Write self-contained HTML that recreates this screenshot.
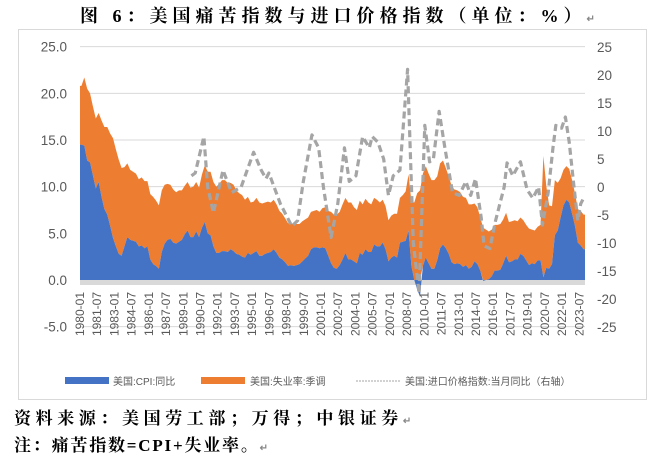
<!DOCTYPE html>
<html><head><meta charset="utf-8"><style>
body{margin:0;background:#fff;width:652px;height:470px;overflow:hidden;position:relative;font-family:"Liberation Serif","Noto Serif CJK SC",serif}
.t{position:absolute;font-weight:bold;white-space:nowrap;color:#000}
</style></head><body>
<div class="t" style="left:80px;top:2px;font-size:18px;letter-spacing:5px">图 6：美国痛苦指数与进口价格指数（单位：%）<span style="font-size:10px;color:#888">↵</span></div>
<div class="t" style="left:14px;top:404px;font-size:17px;letter-spacing:4.6px">资料来源：美国劳工部；万得；中银证券<span style="font-size:10px;color:#888">↵</span></div>
<div class="t" style="left:14px;top:431px;font-size:17px;letter-spacing:1.8px">注：痛苦指数=CPI+失业率。<span style="font-size:10px;color:#888">↵</span></div>
<svg id="c" width="652" height="470" style="position:absolute;left:0;top:0" xmlns="http://www.w3.org/2000/svg"></svg>
<script>
const years=[];for(let y=1980;y<=2023;y++)years.push(y);
const cpi=[14.5,14.4,12.8,12.6, 11.2,9.8,10.5,8.9, 7.6,7.0,5.8,4.5, 3.6,2.8,2.6,3.6, 4.6,4.3,4.2,4.1, 3.6,3.7,3.4,3.6, 2.2,1.7,1.5,1.2, 3.0,3.9,4.3,4.4, 4.0,3.9,4.1,4.3, 4.9,5.3,4.6,4.6, 5.2,4.6,5.6,6.2, 5.0,4.8,3.6,2.9, 2.9,3.1,3.1,3.0, 3.3,3.1,2.8,2.7, 2.5,2.4,2.9,2.7, 2.9,3.1,2.6,2.6, 2.8,2.9,3.0,3.3, 2.9,2.4,2.2,1.9, 1.5,1.6,1.5,1.6, 1.7,2.0,2.3,2.6, 3.3,3.5,3.5,3.4, 3.5,3.4,2.6,1.8, 1.3,1.2,1.6,2.2, 2.9,2.2,2.2,2.0, 1.8,2.9,2.7,3.3, 3.0,3.0,3.8,3.6, 3.6,4.0,3.3,2.0, 2.4,2.6,2.4,4.0, 4.1,4.2,5.3,1.5, 0.0,-1.0,-1.8,1.5, 2.4,1.8,1.2,1.2, 2.1,3.4,3.8,3.4, 2.8,1.9,1.7,1.8, 1.7,1.4,1.6,1.2, 1.4,2.0,1.7,1.0, -0.1,0.0,0.1,0.4, 1.0,1.0,1.1,1.8, 2.6,1.9,2.0,2.2, 2.2,2.8,2.6,2.1, 1.6,1.8,1.7,2.1, 2.1,0.3,1.3,1.2, 1.7,4.8,5.3,6.7, 8.0,8.6,8.3,7.1, 5.8,4.0,3.7,3.3];
const unemp=[6.3,7.3,7.7,7.4, 7.4,7.5,7.4,8.2, 8.8,9.4,9.9,10.7, 10.4,10.1,9.4,8.5, 7.9,7.5,7.4,7.3, 7.2,7.3,7.2,7.0, 7.0,7.2,7.0,6.8, 6.6,6.3,6.0,5.8, 5.7,5.5,5.5,5.3, 5.2,5.2,5.3,5.4, 5.3,5.3,5.7,6.1, 6.6,6.8,6.9,7.1, 7.4,7.6,7.6,7.4, 7.1,7.1,6.8,6.6, 6.6,6.2,6.0,5.6, 5.5,5.7,5.7,5.6, 5.5,5.5,5.3,5.3, 5.2,5.0,4.9,4.7, 4.6,4.4,4.5,4.4, 4.3,4.3,4.2,4.1, 4.0,3.9,4.0,3.9, 4.2,4.4,4.8,5.5, 5.7,5.8,5.7,5.9, 5.9,6.1,6.1,5.8, 5.7,5.6,5.4,5.4, 5.3,5.1,5.0,5.0, 4.7,4.6,4.6,4.4, 4.5,4.5,4.7,4.8, 5.0,5.3,6.0,6.9, 8.3,9.3,9.6,9.9, 9.8,9.6,9.5,9.5, 9.0,9.1,9.0,8.6, 8.3,8.2,8.0,7.8, 7.7,7.5,7.2,6.9, 6.7,6.2,6.1,5.7, 5.6,5.4,5.1,5.0, 4.9,4.9,4.9,4.7, 4.6,4.3,4.3,4.2, 4.1,3.9,3.8,3.8, 3.9,3.6,3.6,3.6, 3.8,13.0,8.8,6.8, 6.2,5.9,5.1,4.2, 3.8,3.6,3.6,3.6, 3.5,3.6,3.7,3.7];
const impDates=["1989-09","1990-01","1990-10","1991-02","1991-08","1992-06","1993-03","1994-01","1995-02","1995-10","1996-03","1996-06","1997-06","1998-06","1998-12","1999-06","2000-03","2000-10","2001-03","2001-11","2002-06","2003-01","2003-06","2004-01","2004-08","2005-03","2005-06","2005-12","2006-06","2006-11","2007-04","2007-11","2008-07","2009-01","2009-07","2010-01","2010-06","2010-10","2011-04","2011-10","2012-06","2013-01","2013-08","2014-01","2014-06","2014-12","2015-03","2015-09","2016-03","2016-12","2017-03","2017-09","2018-05","2018-12","2019-06","2019-12","2020-04","2020-10","2021-03","2021-06","2021-12","2022-04","2022-08","2023-01","2023-05","2023-08","2023-11"];
const impVals=[2,2.5,9,0,-4.6,3,-1,0,6.2,3,1.5,2.5,-3,-7,-6,1,9.3,7,0,-9,-3,7,1,2,9,7,9,8,5,-1.5,2,3,21,-10,-19,11,4.5,5,13.5,7,-1,-1.5,1,-1.5,1.5,-5.5,-10.5,-11,-6,0,4.3,2,4.5,-0.5,-2,0,-6.8,-1,7,11,10.5,12.5,8,0,-6,-3,-2];
const leftTicks=[25,20,15,10,5,0,-5];
const rightTicks=[25,20,15,10,5,0,-5,-10,-15,-20,-25];

const svg=document.getElementById('c');const NS='http://www.w3.org/2000/svg';
const X0=80,X1=585;
const xs=t=>X0+(t-1980)/44*(X1-X0);
const yL=v=>280-v*9.333;
const yR=v=>187-v*5.6;
function mk(tag,attrs,parent){const e=document.createElementNS(NS,tag);for(const k in attrs)e.setAttribute(k,attrs[k]);(parent||svg).appendChild(e);return e;}
const fr=mk('rect',{x:18.5,y:29.5,width:628,height:370,fill:'none',stroke:'#d9d9d9'});


leftTicks.forEach(v=>{
  if(v!==0){const g=mk('line',{x1:X0,x2:X1,y1:yL(v),y2:yL(v),stroke:'#d9d9d9'});
  
  }
  const tx=mk('text',{x:67,y:yL(v)+5,'text-anchor':'end','font-size':13.5,fill:'#595959','font-family':'Liberation Sans'});
  tx.textContent=v.toFixed(1);
  
  
});
rightTicks.forEach(v=>{
  const tx=mk('text',{x:597,y:yR(v)+5,'font-size':13.5,fill:'#595959','font-family':'Liberation Sans'});
  tx.textContent=v;
  
  
});
const band=mk('rect',{x:X0,y:280,width:X1-X0,height:5,fill:'#d9d9d9'});


const ts=cpi.map((v,i)=>1980+Math.floor(i/4)+((i%4)*3+1.5)/12);
let pb=`M${xs(1980)},${yL(0)} L${xs(1980)},${yL(cpi[0])} `;
ts.forEach((t,i)=>pb+=`L${xs(t)},${yL(cpi[i])} `);
pb+=`L${xs(2024)},${yL(cpi[cpi.length-1])} L${xs(2024)},${yL(0)} Z`;
const stackTop=cpi.map((v,i)=>Math.max(v,0)+unemp[i]);
const stackBot=cpi.map(v=>Math.max(v,0));
let po=`M${xs(1980)},${yL(stackBot[0])} L${xs(1980)},${yL(stackTop[0])} `;
ts.forEach((t,i)=>po+=`L${xs(t)},${yL(stackTop[i])} `);
po+=`L${xs(2024)},${yL(stackTop[stackTop.length-1])} L${xs(2024)},${yL(stackBot[stackBot.length-1])} `;
for(let i=ts.length-1;i>=0;i--)po+=`L${xs(ts[i])},${yL(stackBot[i])} `;
po+=`L${xs(1980)},${yL(stackBot[0])} Z`;
const ao=mk('path',{d:po,fill:'#ED7D31'});


const ab=mk('path',{d:pb,fill:'#4472C4'});


const ip=impDates.map((d,i)=>{const [yy,mm]=d.split('-').map(Number);return [xs(yy+(mm-0.5)/12),yR(impVals[i])];});
let pl='M'+ip.map(p=>p.join(',')).join(' L');
const ln=mk('path',{d:pl,fill:'none',stroke:'#A5A5A5','stroke-width':3.2,'stroke-dasharray':'7,4','stroke-linejoin':'round'});


for(let m=0;m<528;m+=18){
  const yy=1980+Math.floor(m/12),mm=m%12+1;
  const lx=xs(1980+m/12)+4;
  const tx=mk('text',{x:0,y:0,transform:`translate(${lx},292) rotate(-90)`,'text-anchor':'end','font-size':12,fill:'#595959','font-family':'Liberation Sans'});
  tx.textContent=yy+'-'+(mm<10?'0':'')+mm;
  
  
}
const lg=mk('g',{});


const r1=mk('rect',{x:65,y:377,width:44,height:7,fill:'#4472C4'},lg);


const t1=mk('text',{x:113,y:385,'font-size':10,fill:'#595959','font-family':'Liberation Sans, Noto Sans CJK SC, sans-serif'},lg);t1.textContent='美国:CPI:同比';


const r2=mk('rect',{x:201,y:377,width:44,height:7,fill:'#ED7D31'},lg);


const t2=mk('text',{x:250,y:385,'font-size':10,fill:'#595959','font-family':'Liberation Sans, Noto Sans CJK SC, sans-serif'},lg);t2.textContent='美国:失业率:季调';


const l3=mk('line',{x1:356,x2:400,y1:381,y2:381,stroke:'#A5A5A5','stroke-width':1,'stroke-dasharray':'2,1'},lg);


const t3=mk('text',{x:405,y:385,'font-size':10,fill:'#595959','font-family':'Liberation Sans, Noto Sans CJK SC, sans-serif'},lg);t3.textContent='美国:进口价格指数:当月同比（右轴）';


</script>
</body></html>
